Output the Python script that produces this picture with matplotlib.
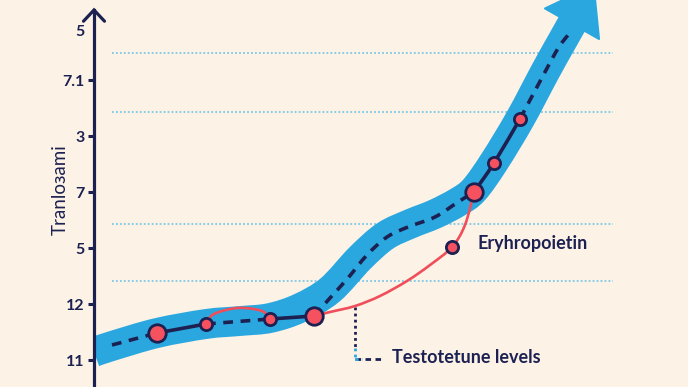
import numpy as np
import matplotlib
matplotlib.use("Agg")
import matplotlib.pyplot as plt
from matplotlib.path import Path
from matplotlib.patches import PathPatch, Polygon
from matplotlib.transforms import IdentityTransform

# ---------------- data ----------------
tick_pos = [1, 2, 3, 4, 5, 6, 6.89]
tick_labels = ["11", "12", "5", "7", "3", "7.1", "5"]
grid_levels = [2.41, 3.43, 5.43, 6.48]

# centre line of the broad trend band
band_x = [0.0, 0.36, 1.26, 2.24, 2.92, 3.52, 4.12, 4.72, 5.32, 5.82, 6.32,
          6.82, 7.28, 7.60, 8.00, 8.52, 9.02, 9.32, 9.58]
band_y = [1.143, 1.25, 1.482, 1.643, 1.696, 1.75, 1.929, 2.25, 2.821, 3.214,
          3.429, 3.607, 3.821, 4.036, 4.536, 5.304, 6.143, 6.625, 7.036]

# dark trace following the band
trace_x = [0.36, 1.26, 2.24, 3.52, 4.40, 4.72, 5.08, 5.46, 5.86, 6.28, 6.82,
           7.28, 7.60, 8.00, 8.52, 9.02, 9.30, 9.56]
trace_y = [1.268, 1.482, 1.643, 1.732, 1.786, 2.107, 2.464, 2.875, 3.196,
           3.375, 3.554, 3.821, 4.000, 4.518, 5.304, 6.143, 6.59, 6.89]
solid_runs = [(1, 2), (3, 4), (12, 14)]
dashed_runs = [(0, 1), (2, 3), (4, 12), (14, 17)]

# measured points on the trace
point_x = [1.26, 2.24, 3.52, 4.40, 7.60, 8.00, 8.52]
point_y = [1.482, 1.643, 1.732, 1.786, 4.00, 4.518, 5.304]
point_big = [True, False, False, True, True, False, False]

# Erythropoietin curve
arc_x = [2.24, 2.40, 2.88, 3.36, 3.52]
arc_y = [1.643, 1.821, 1.929, 1.875, 1.714]
ery_x = [4.40, 4.72, 5.22, 5.72, 6.26, 6.72, 7.16, 7.42, 7.60]
ery_y = [1.786, 1.857, 1.964, 2.143, 2.411, 2.696, 3.018, 3.411, 4.00]
ery_point = (7.16, 3.018)

# testosterone callout
call_x = 5.22
call_top = 1.946
call_bottom = 1.018
call_end = 5.76

# ---------------- style ----------------
BG = "#FCF3E6"
NAVY = "#1D2152"
BLUE = "#2BA7E0"
GRID = "#7CC6E8"
RED = "#EF4E5A"
FILL = "#F5515F"
FONT = "Lato"


def smooth(xs, ys):
    p = np.column_stack([xs, ys]).astype(float)
    n = len(p)
    if n == 2:
        return Path(p, [Path.MOVETO, Path.LINETO])
    verts = [p[0]]
    codes = [Path.MOVETO]
    for i in range(n - 1):
        p0 = p[i - 1] if i > 0 else p[i]
        p3 = p[i + 2] if i + 2 < n else p[i + 1]
        c1 = p[i] + (p[i + 1] - p0) / 6.0
        c2 = p[i + 1] - (p3 - p[i]) / 6.0
        verts += [c1, c2, p[i + 1]]
        codes += [Path.CURVE4] * 3
    return Path(verts, codes)


fig = plt.figure(figsize=(6.88, 3.87), dpi=100, facecolor=BG)
ax = fig.add_axes([94 / 688, 0, 594 / 688, 1])
ax.set_facecolor(BG)
ax.set_xlim(0, 11.88)
ax.set_ylim(1 - 27 / 56, 1 + 360 / 56)

for s in ["top", "right", "bottom"]:
    ax.spines[s].set_visible(False)
ax.spines["left"].set_color(NAVY)
ax.spines["left"].set_linewidth(2.3)
ax.spines["left"].set_bounds(1 - 27 / 56, 7.25)
ax.plot([-0.21, 0, 0.21], [7.05, 7.25, 7.05], color=NAVY, lw=2.3,
        clip_on=False, solid_capstyle="round", solid_joinstyle="miter", zorder=5)

ax.set_xticks([])
ax.set_yticks(tick_pos)
ax.set_yticklabels(tick_labels, fontfamily=FONT, fontweight="bold")
ax.tick_params(axis="y", direction="out", length=4, width=2.2, color=NAVY,
               pad=3, labelsize=11.5, labelcolor=NAVY)
ax.yaxis.get_major_ticks()[-1].tick1line.set_visible(False)

fig.text(60 / 688, 1 - 190 / 387, "Tranloɜami", rotation=90, ha="center",
         va="center", color=NAVY, fontsize=13.5, fontfamily=["Lato", "DejaVu Sans"])

# grid
for g in grid_levels:
    ax.plot([0.36, 10.38], [g, g], color=GRID, lw=1.3, ls=(0, (1, 1.2)), zorder=0.5)

# band
ax.add_patch(PathPatch(smooth(band_x, band_y), fill=False, lw=21.5, edgecolor=BLUE,
                       capstyle="butt", joinstyle="round", zorder=1))
# arrow head of band
fig.canvas.draw()
p1 = ax.transData.transform((band_x[-2], band_y[-2]))
p2 = ax.transData.transform((band_x[-1], band_y[-1]))
d = (p2 - p1) / np.hypot(*(p2 - p1))
nrm = np.array([-d[1], d[0]])
head = [p2 - d * 2 + nrm * 31, p2 - d * 2 - nrm * 31, p2 + d * 42]
ax.add_patch(Polygon(head, closed=True, facecolor=BLUE, edgecolor=BLUE, lw=1.5,
                     joinstyle="round", transform=IdentityTransform(), clip_on=False,
                     zorder=1))

# dark trace
for a, b in solid_runs:
    ax.add_patch(PathPatch(smooth(trace_x[a:b + 1], trace_y[a:b + 1]), fill=False,
                           lw=2.6, edgecolor=NAVY, capstyle="round", zorder=3))
for a, b in dashed_runs:
    ax.add_patch(PathPatch(smooth(trace_x[a:b + 1], trace_y[a:b + 1]), fill=False,
                           lw=2.6, edgecolor=NAVY, linestyle=(0, (2.7, 2.1)),
                           capstyle="butt", zorder=3))

# red curves
ax.add_patch(PathPatch(smooth(arc_x, arc_y), fill=False, lw=1.9, edgecolor=RED, zorder=2.5))
ax.add_patch(PathPatch(smooth(ery_x, ery_y), fill=False, lw=1.9, edgecolor=RED, zorder=2.5))

# callout
ax.plot([call_x, call_x], [call_top, call_bottom + 0.2], color=NAVY, lw=2.0,
        ls=(0, (1, 1.2)), zorder=2)
ax.plot([call_x, call_x], [call_bottom + 0.2, call_bottom], color=BLUE, lw=2.0,
        ls=(0, (1, 1.2)), zorder=2)
ax.plot([call_x, call_end], [call_bottom, call_bottom], color=NAVY, lw=2.0,
        ls=(0, (2, 1.6)), zorder=2)
ax.plot([call_x, call_x + 0.14], [call_bottom, call_bottom], color=BLUE, lw=2.2,
        ls=(0, (1, 1.2)), zorder=2.1)
ax.text(call_end + 0.2, call_bottom + 0.02, "Testotetune levels", color=NAVY,
        fontsize=13, fontfamily=FONT, fontweight="bold", ha="left", va="center")

# points
for x, y, big in zip(point_x, point_y, point_big):
    ax.plot([x], [y], marker="o", ms=12.6 if big else 8.8, mfc=FILL, mec=NAVY,
            mew=2.0, zorder=4)
ax.plot([ery_point[0]], [ery_point[1]], marker="o", ms=8.8, mfc=FILL, mec=NAVY,
        mew=2.0, zorder=4)
ax.text(ery_point[0] + 0.52, ery_point[1] + 0.07, "Eryhropoietin", color=NAVY,
        fontsize=13, fontfamily=FONT, fontweight="bold", ha="left", va="center")

fig.savefig("out.png", dpi=100, facecolor=BG)
